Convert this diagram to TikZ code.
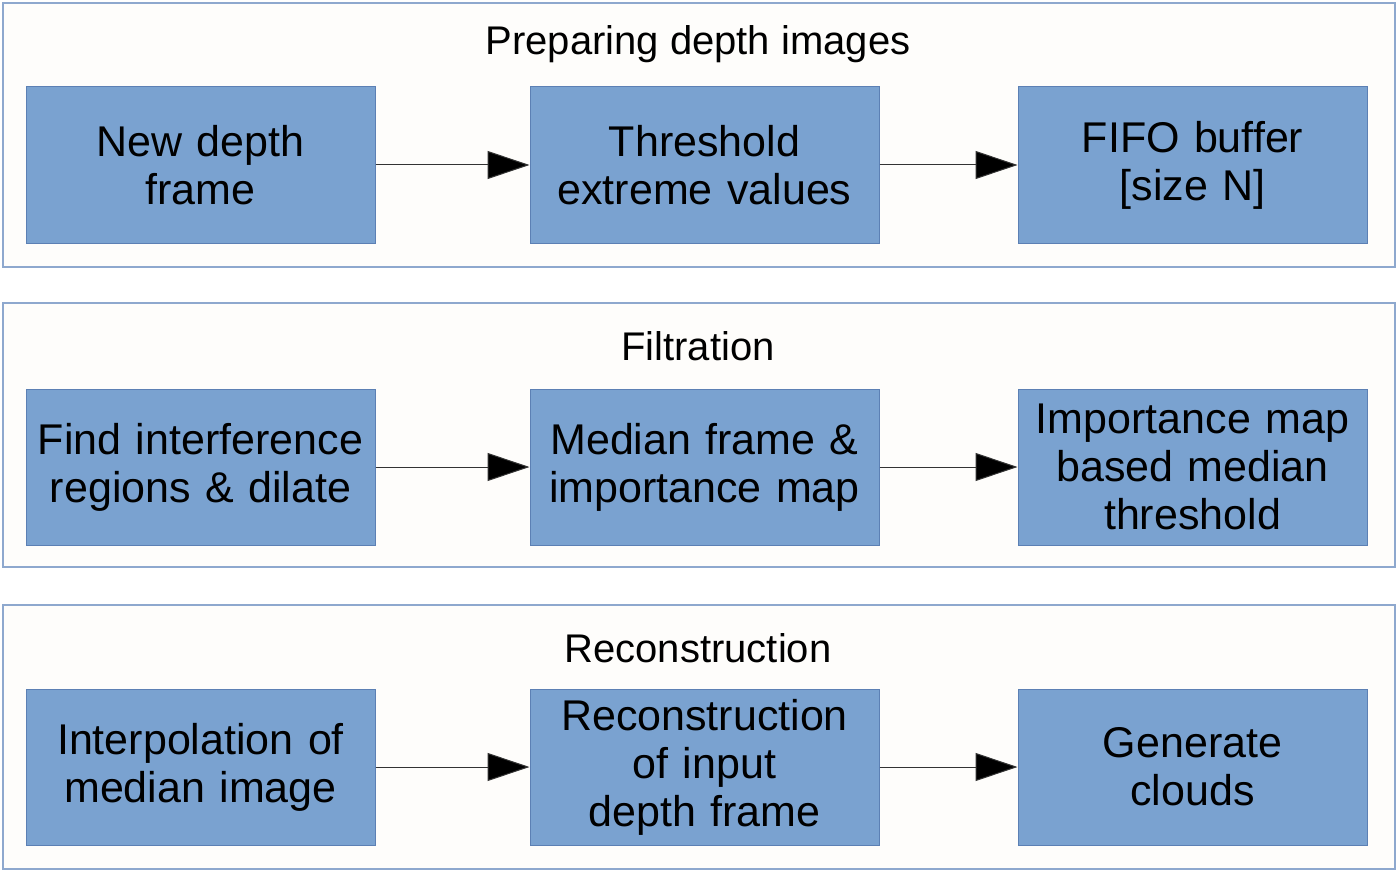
\documentclass[tikz,border=0pt]{standalone}
\usepackage{fontspec}
\setmainfont{Liberation Sans}
\usetikzlibrary{arrows.meta}
\definecolor{boxfill}{HTML}{7AA2D0}
\definecolor{boxedge}{HTML}{5C80B4}
\definecolor{frameedge}{HTML}{8EA8CE}
\definecolor{framefill}{HTML}{FEFDFB}
\definecolor{arrowline}{HTML}{333333}
\tikzset{
  stagebox/.style={draw=boxedge, line width=1pt, fill=boxfill, minimum width=349pt, minimum height=156pt, inner sep=0pt, align=center, text width=349pt, font=\fontsize{43}{48}\selectfont},
  frame/.style={draw=frameedge, line width=1.5pt, fill=framefill},
  titletext/.style={font=\fontsize{40}{46}\selectfont, inner sep=0pt},
  flow/.style={draw=arrowline, line width=1pt, -{Triangle[length=42pt,width=28pt,fill=black]}},
}
\begin{document}
\begin{tikzpicture}[x=1pt,y=-1pt]
\useasboundingbox (0,0) rectangle (1398,872);
\fill[white] (0,0) rectangle (1398,872);
\draw[frame] (3,3) rectangle (1395,267);
\draw[frame] (3,303) rectangle (1395,567);
\draw[frame] (3,605) rectangle (1395,869);
\node[titletext] (t1) at (698,44) {Preparing depth images};
\node[titletext] (t2) at (698,346) {Filtration};
\node[titletext] (t3) at (698,648) {Reconstruction};
\node[stagebox] (a1) at (200.5,165) {New depth\\frame};
\node[stagebox] (a2) at (704.5,165) {Threshold\\extreme values};
\node[stagebox] (a3) at (1192.5,165) {FIFO buffer\\{[size N]}};
\node[stagebox] (b1) at (200.5,467) {Find interference\\regions \& dilate};
\node[stagebox] (b2) at (704.5,467) {Median frame \&\\importance map};
\node[stagebox] (b3) at (1192.5,467) {Importance map\\based median\\threshold};
\node[stagebox] (c1) at (200.5,767) {Interpolation of\\median image};
\node[stagebox] (c2) at (704.5,767) {Reconstruction\\of input\\depth frame};
\node[stagebox] (c3) at (1192.5,767) {Generate\\clouds};
\draw[flow] (a1) -- (a2);
\draw[flow] (a2) -- (a3);
\draw[flow] (b1) -- (b2);
\draw[flow] (b2) -- (b3);
\draw[flow] (c1) -- (c2);
\draw[flow] (c2) -- (c3);
\end{tikzpicture}
\end{document}
